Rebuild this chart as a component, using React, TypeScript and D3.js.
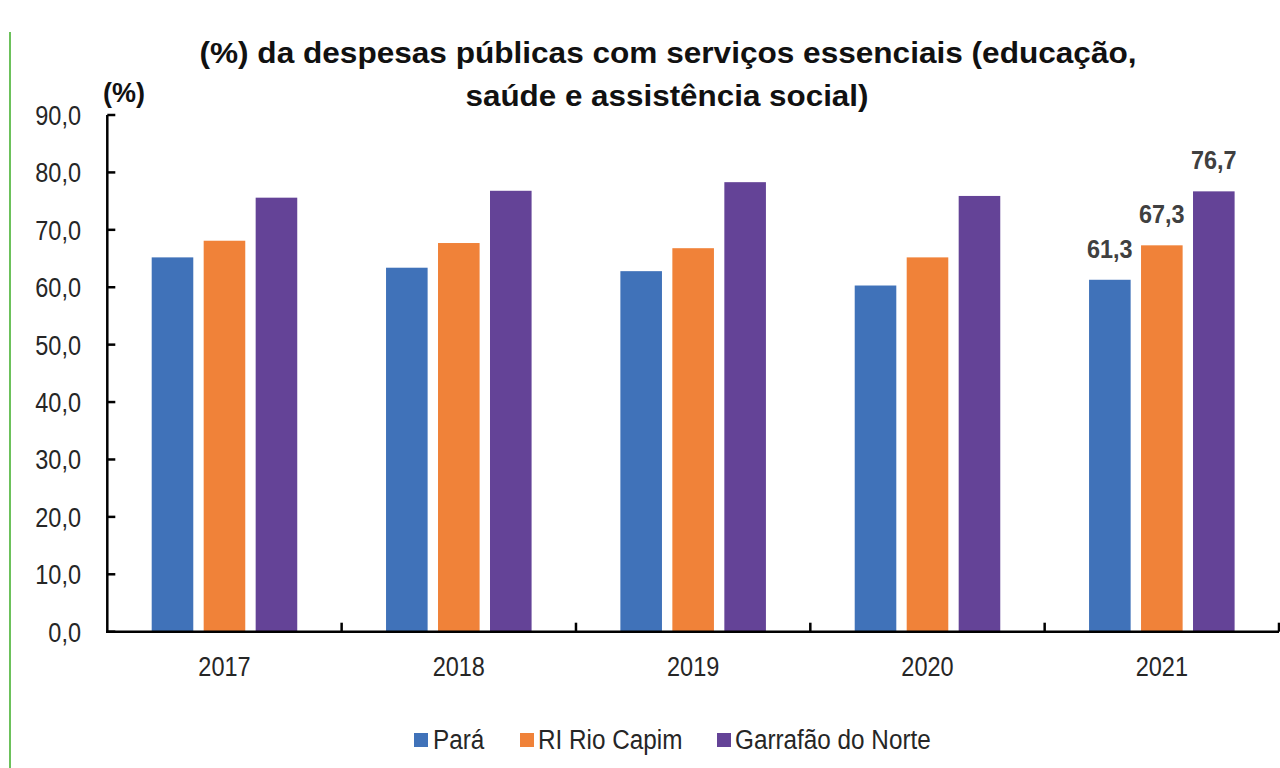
import React from "react";
import * as d3 from "d3";

const years = ["2017", "2018", "2019", "2020", "2021"];
const seriesNames = ["Pará", "RI Rio Capim", "Garrafão do Norte"];
const para = [65.2, 63.4, 62.8, 60.3, 61.3];
const riRioCapim = [68.1, 67.7, 66.8, 65.2, 67.3];
const garrafao = [75.6, 76.8, 78.3, 75.9, 76.7];
const yTicks = [0, 10, 20, 30, 40, 50, 60, 70, 80, 90];
const labelledYear = "2021";
const titleLines = [
  "(%) da despesas públicas com serviços essenciais (educação,",
  "saúde e assistência social)",
];

const colors = ["#4072b9", "#f08239", "#644397"];
const seriesValues = [para, riRioCapim, garrafao];

const W = 1280;
const H = 768;
const FONT = "'Liberation Sans', Arial, sans-serif";

const fmt = (v: number) => v.toFixed(1).replace(".", ",");

function T(props: {
  x: number;
  y: number;
  anchor?: string;
  size: number;
  sx?: number;
  weight?: string;
  fill?: string;
  children: React.ReactNode;
}) {
  const { x, y, anchor = "start", size, sx = 1, weight = "normal", fill = "#262626", children } = props;
  return (
    <text
      transform={`translate(${x},${y}) scale(${sx},1)`}
      textAnchor={anchor}
      fontSize={size}
      fontWeight={weight}
      fontFamily={FONT}
      fill={fill}
    >
      {children}
    </text>
  );
}

export default function App() {
  const x0 = d3.scaleBand<string>().domain(years).range([107.3, 1279]).padding(0);
  const x1 = d3
    .scaleBand<number>()
    .domain([0, 1, 2])
    .range([0, x0.bandwidth()])
    .paddingInner(0.2)
    .paddingOuter(0.854);
  const y = d3.scaleLinear().domain([0, 90]).range([631.7, 115]);

  const axisX = x0.range()[0];
  const boundaries = years.map((yr) => (x0(yr) as number) + x0.bandwidth());

  const legendItems = [
    { sq: 414, tx: 433 },
    { sq: 520, tx: 538 },
    { sq: 717, tx: 735 },
  ];

  return (
    <svg
      width={W}
      height={H}
      style={{ position: "absolute", left: 0, top: 0, background: "#fff" }}
    >
      <rect x={0} y={0} width={W} height={H} fill="#fff" />
      {/* green margin line */}
      <line x1={10} x2={10} y1={32} y2={H} stroke="#6cc15b" strokeWidth={2} />

      {/* title */}
      <text
        x={668}
        y={63}
        textAnchor="middle"
        fontSize={30}
        fontWeight="bold"
        fontFamily={FONT}
        fill="#111"
        textLength={937}
        lengthAdjust="spacingAndGlyphs"
      >
        {titleLines[0]}
      </text>
      <text
        x={667}
        y={106}
        textAnchor="middle"
        fontSize={30}
        fontWeight="bold"
        fontFamily={FONT}
        fill="#111"
        textLength={403}
        lengthAdjust="spacingAndGlyphs"
      >
        {titleLines[1]}
      </text>

      {/* unit label */}
      <T x={124} y={102} anchor="middle" size={27} weight="bold" fill="#111">
        (%)
      </T>

      {/* bars */}
      {years.map((yr, i) => (
        <g key={yr} transform={`translate(${x0(yr)},0)`}>
          {seriesValues.map((vals, s) => (
            <rect
              key={s}
              x={x1(s)}
              y={y(vals[i])}
              width={x1.bandwidth()}
              height={y(0) - y(vals[i])}
              fill={colors[s]}
            />
          ))}
          {yr === labelledYear &&
            seriesValues.map((vals, s) => (
              <T
                key={"l" + s}
                x={(x1(s) as number) + x1.bandwidth() / 2}
                y={y(vals[i]) - 22}
                anchor="middle"
                size={26}
                sx={0.9}
                weight="bold"
                fill="#404040"
              >
                {fmt(vals[i])}
              </T>
            ))}
        </g>
      ))}

      {/* y axis */}
      <line x1={axisX} x2={axisX} y1={y(90)} y2={y(0) + 1.25} stroke="#000" strokeWidth={2.5} />
      {yTicks.map((t) => (
        <g key={t}>
          <line x1={axisX} x2={axisX + 8} y1={y(t)} y2={y(t)} stroke="#000" strokeWidth={2.5} />
          <T x={81} y={y(t) + 10} anchor="end" size={27} sx={0.87}>
            {fmt(t)}
          </T>
        </g>
      ))}

      {/* x axis */}
      <line x1={axisX - 1.25} x2={1279} y1={y(0)} y2={y(0)} stroke="#000" strokeWidth={2.5} />
      {boundaries.map((bx, i) => (
        <line key={i} x1={bx} x2={bx} y1={y(0)} y2={y(0) - 9} stroke="#000" strokeWidth={2.5} />
      ))}
      {years.map((yr) => (
        <T key={yr} x={(x0(yr) as number) + x0.bandwidth() / 2} y={676} anchor="middle" size={27} sx={0.87}>
          {yr}
        </T>
      ))}

      {/* legend */}
      {seriesNames.map((name, s) => (
        <g key={name}>
          <rect x={legendItems[s].sq} y={733} width={14} height={14} fill={colors[s]} />
          <T x={legendItems[s].tx} y={749} size={27} sx={0.9}>
            {name}
          </T>
        </g>
      ))}
    </svg>
  );
}
